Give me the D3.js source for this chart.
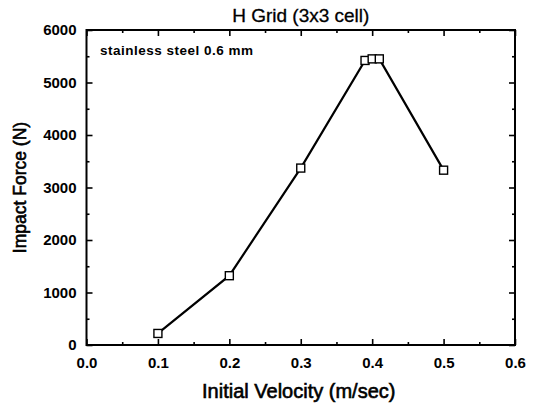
<!DOCTYPE html>
<html><head><meta charset="utf-8">
<script src="https://cdn.jsdelivr.net/npm/d3@7"></script>
<style>body{margin:0;background:#fff;} svg{display:block;font-family:"Liberation Sans",Arial,sans-serif;}</style>
</head><body>
<svg id="c" width="535" height="405"></svg>
<script>
const velocity = [0.1, 0.2, 0.3, 0.39, 0.40, 0.41, 0.5];
const force = [220, 1320, 3370, 5420, 5450, 5450, 3330];
const xTicks = [0.0, 0.1, 0.2, 0.3, 0.4, 0.5, 0.6];
const xMinor = [0.05, 0.15, 0.25, 0.35, 0.45, 0.55];
const yTicks = [0, 1000, 2000, 3000, 4000, 5000, 6000];
const yMinor = [500, 1500, 2500, 3500, 4500, 5500];
const title = "H Grid (3x3 cell)";
const xTitle = "Initial Velocity (m/sec)";
const yTitle = "Impact Force (N)";
const note = "stainless steel 0.6 mm";

const svg = d3.select("#c");
const L = 86.5, R = 515, T = 30, B = 345;
const x = d3.scaleLinear().domain([0, 0.6]).range([L, R]);
const y = d3.scaleLinear().domain([0, 6000]).range([B, T]);

// frame
svg.append("rect").attr("x", L).attr("y", T).attr("width", R - L).attr("height", B - T)
  .attr("fill", "none").attr("stroke", "#000").attr("stroke-width", 2);

function ticks(axisGen, tr, vals, len) {
  const g = svg.append("g").attr("transform", tr)
    .call(axisGen.tickValues(vals).tickSizeInner(len).tickSizeOuter(0).tickFormat(""));
  g.select(".domain").remove();
  g.selectAll("line").attr("stroke", "#000").attr("stroke-width", 1.6);
  return g;
}
// inward ticks
ticks(d3.axisBottom(x), `translate(0,${B})`, xTicks, -6);
ticks(d3.axisBottom(x), `translate(0,${B})`, xMinor, -3);
ticks(d3.axisTop(x), `translate(0,${T})`, xTicks, -6);
ticks(d3.axisTop(x), `translate(0,${T})`, xMinor, -3);
ticks(d3.axisLeft(y), `translate(${L},0)`, yTicks, -6);
ticks(d3.axisLeft(y), `translate(${L},0)`, yMinor, -3);
ticks(d3.axisRight(y), `translate(${R},0)`, yTicks, -6);
ticks(d3.axisRight(y), `translate(${R},0)`, yMinor, -3);

// labels
const gx = svg.append("g").attr("transform", `translate(0,${B})`)
  .call(d3.axisBottom(x).tickValues(xTicks).tickSize(0).tickPadding(12).tickFormat(d3.format(".1f")));
gx.select(".domain").remove();
gx.selectAll("text").attr("font-size", 15).attr("font-weight", "bold").attr("fill", "#000")
  .attr("font-family", "Liberation Sans, Arial, sans-serif");
const gy = svg.append("g").attr("transform", `translate(${L},0)`)
  .call(d3.axisLeft(y).tickValues(yTicks).tickSize(0).tickPadding(10).tickFormat(d3.format("d")));
gy.select(".domain").remove();
gy.selectAll("text").attr("font-size", 15).attr("font-weight", "bold").attr("fill", "#000")
  .attr("font-family", "Liberation Sans, Arial, sans-serif");

// line
svg.append("path").datum(velocity.map((v, i) => [v, force[i]]))
  .attr("d", d3.line().x(d => x(d[0])).y(d => y(d[1])))
  .attr("fill", "none").attr("stroke", "#000").attr("stroke-width", 2.2);

// markers
svg.selectAll("rect.m").data(velocity.map((v, i) => [v, force[i]])).join("rect")
  .attr("class", "m")
  .attr("x", d => x(d[0]) - 4).attr("y", d => y(d[1]) - 4)
  .attr("width", 8).attr("height", 8)
  .attr("fill", "#fff").attr("stroke", "#000").attr("stroke-width", 1.4);

// texts
svg.append("text").attr("x", (L + R) / 2).attr("y", 22).attr("text-anchor", "middle")
  .attr("font-size", 19).attr("stroke", "#000").attr("stroke-width", 0.3).text(title);
svg.append("text").attr("x", (L + R) / 2 - 2).attr("y", 398).attr("text-anchor", "middle")
  .attr("font-size", 20).attr("stroke", "#000").attr("stroke-width", 0.6).text(xTitle);
svg.append("text").attr("transform", `translate(26,${(T + B) / 2}) rotate(-90)`).attr("text-anchor", "middle")
  .attr("font-size", 17.5).attr("stroke", "#000").attr("stroke-width", 0.6).text(yTitle);
svg.append("text").attr("x", 100).attr("y", 55).attr("letter-spacing", 0.5)
  .attr("font-size", 13.5).attr("font-weight", "bold").text(note);
</script>
</body></html>
